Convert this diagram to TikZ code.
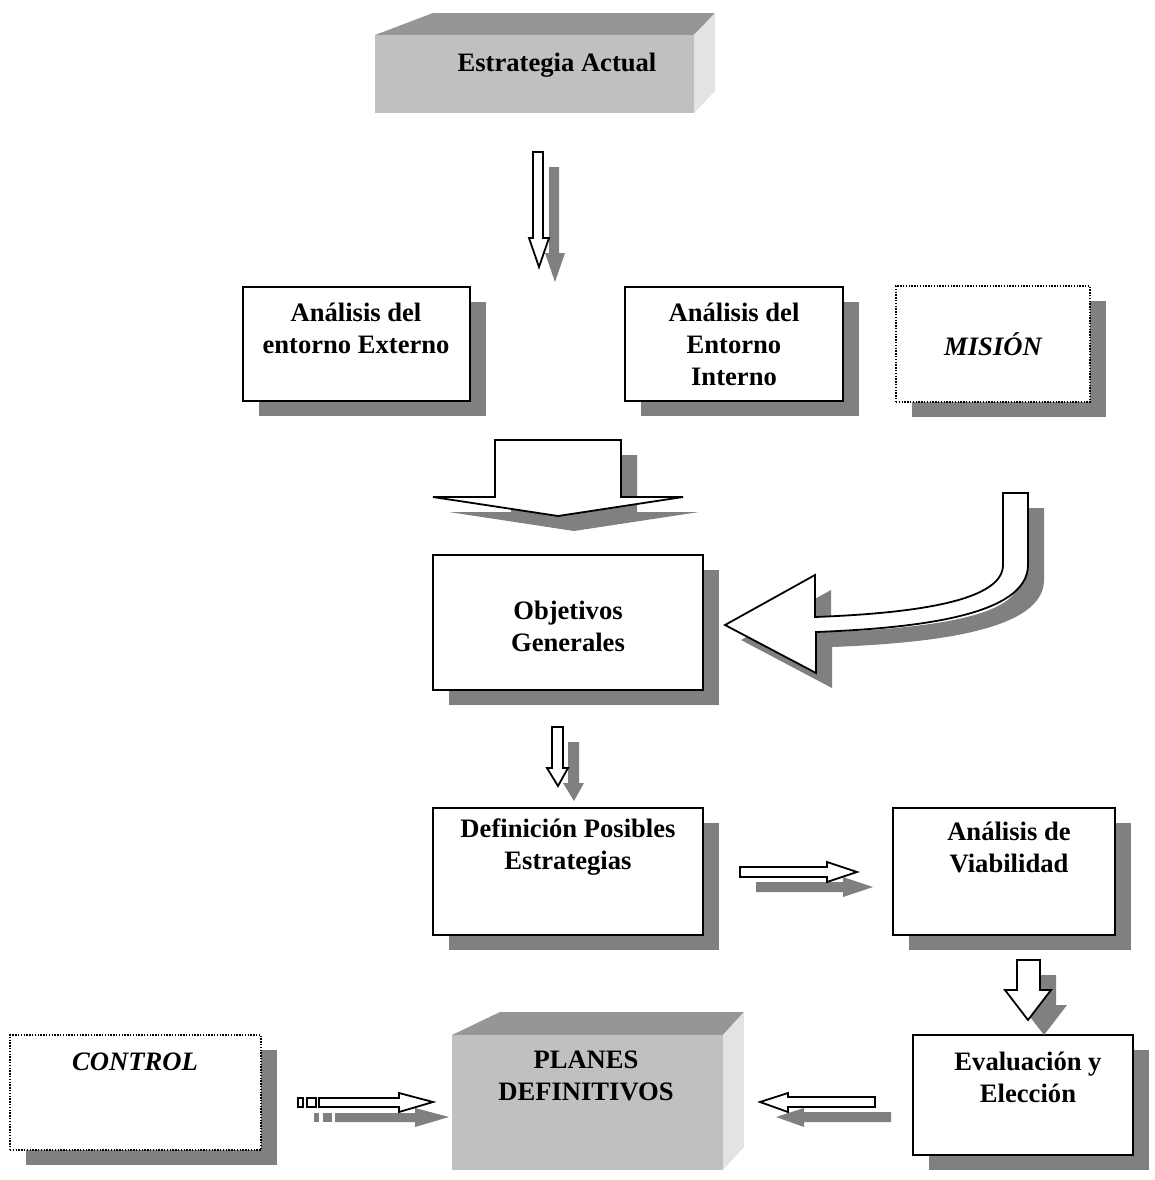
\documentclass[tikz,border=0pt]{standalone}
\usepackage{fontspec}
\setmainfont{Liberation Serif}
\usetikzlibrary{shadows,positioning}
\definecolor{gris}{HTML}{808080}
\definecolor{tapa}{HTML}{969696}
\definecolor{frente}{HTML}{C0C0C0}
\definecolor{lado}{HTML}{E3E3E3}
\begin{document}
\begin{tikzpicture}[x=0.5pt,y=-0.5pt,line join=miter,
  sombra/.style={drop shadow={shadow xshift=8pt,shadow yshift=-7.5pt,fill=gris,opacity=1}},
  caja/.style={draw,line width=0.9pt,fill=white,inner sep=0pt,sombra},
  punteada/.style={caja,line width=1pt,dash pattern=on 0.7pt off 0.7pt},
  flecha/.style={draw,line width=0.9pt,fill=white,sombra}]
\tikzstyle{texto}=[font=\fontsize{13.3}{16}\selectfont\bfseries,align=center,inner sep=0pt]
\tikzstyle{cursiva}=[texto,font=\fontsize{13.3}{16}\selectfont\bfseries\itshape]
\useasboundingbox (0,0) rectangle (1155,1180);

% bloque superior
\fill[tapa] (375,35) -- (433,13) -- (715,13) -- (694,35) -- cycle;
\fill[lado] (694,35) -- (715,13) -- (715,91) -- (694,113) -- cycle;
\node[fill=frente,minimum width=159.5pt,minimum height=39pt,inner sep=0pt] (actual) at (534.5,74) {};
\node[texto] (t-actual) at (557,65) {Estrategia Actual};

% cajas
\node[caja,minimum width=113.5pt,minimum height=57pt] (externo) at (356.5,344) {};
\node[caja,minimum width=109pt,minimum height=57pt] (interno) at (734,344) {};
\node[punteada,minimum width=97pt,minimum height=58pt] (mision) at (993,344) {};
\node[caja,minimum width=135pt,minimum height=67.5pt] (objetivos) at (568,622.5) {};
\node[caja,minimum width=135pt,minimum height=63.5pt] (definicion) at (568,871.5) {};
\node[caja,minimum width=111pt,minimum height=63.5pt] (viabilidad) at (1004,871.5) {};
\node[caja,minimum width=110pt,minimum height=60pt] (eleccion) at (1023,1095) {};
\node[punteada,minimum width=125.5pt,minimum height=57.5pt] (control) at (135.5,1092.5) {};

\node[texto] (t-externo) at (356,328) {Análisis del\\entorno Externo};
\node[texto] (t-interno) at (734,344) {Análisis del\\Entorno\\Interno};
\node[cursiva] (t-mision) at (993,344) {MISIÓN};
\node[texto] (t-objetivos) at (568,626) {Objetivos\\Generales};
\node[texto] (t-definicion) at (568,847) {Definición Posibles\\Estrategias};
\node[texto] (t-viabilidad) at (1009,847) {Análisis de\\Viabilidad};
\node[texto] (t-eleccion) at (1028,1077) {Evaluación y\\Elección};
\node[cursiva] (t-control) at (135,1062) {CONTROL};

% bloque inferior
\fill[tapa] (452,1035) -- (500,1012) -- (744,1012) -- (723,1035) -- cycle;
\fill[lado] (723,1035) -- (744,1012) -- (744,1147) -- (723,1170) -- cycle;
\node[fill=frente,minimum width=135.5pt,minimum height=67.5pt,inner sep=0pt] (planes) at (587.5,1102.5) {};
\node[texto] (t-planes) at (586,1076) {PLANES\\DEFINITIVOS};

% flechas
\draw[flecha] (533,152) -- (543,152) -- (543,238) -- (549,238) -- (539,267) -- (529,238) -- (533,238) -- cycle;
\draw[flecha] (495,440) -- (621,440) -- (621,497) -- (683,497) -- (558,516) -- (433,497) -- (495,497) -- cycle;
\draw[flecha] (1003,493) -- (1028,493) -- (1028,565) .. controls (1028,615) and (920,628) .. (816,632)
  -- (816,673) -- (725,625) -- (815,575) -- (815,617) .. controls (920,613) and (1003,600) .. (1003,565) -- cycle;
\draw[flecha] (552,727) -- (563,727) -- (563,768) -- (568,768) -- (558,786) -- (547,768) -- (552,768) -- cycle;
\draw[flecha] (740,867) -- (827,867) -- (827,862) -- (857,872) -- (827,882) -- (827,877) -- (740,877) -- cycle;
\draw[flecha] (1017,960) -- (1040,960) -- (1040,990) -- (1051,990) -- (1028,1020) -- (1005,990) -- (1017,990) -- cycle;
\draw[flecha] (875,1097) -- (788,1097) -- (788,1093) -- (760,1102) -- (788,1112) -- (788,1107) -- (875,1107) -- cycle;
\draw[flecha] (298,1098) rectangle (303,1107);
\draw[flecha] (307,1098) rectangle (316,1107);
\draw[flecha] (319,1098) -- (399,1098) -- (399,1093) -- (433,1102) -- (399,1112) -- (399,1107) -- (319,1107) -- cycle;
\end{tikzpicture}
\end{document}
